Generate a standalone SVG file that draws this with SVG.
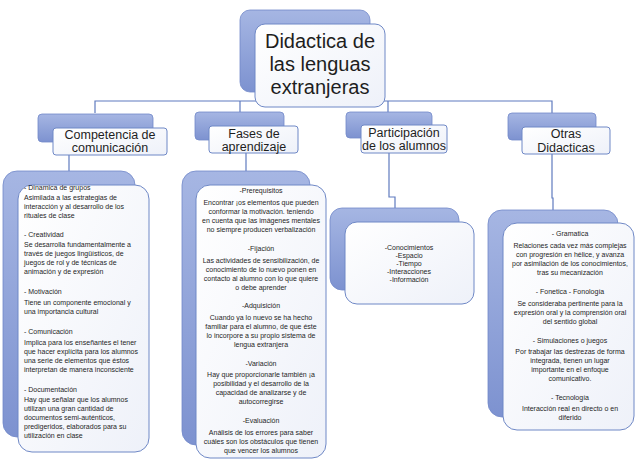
<svg xmlns="http://www.w3.org/2000/svg" width="640" height="464" viewBox="0 0 640 464">
<defs>
<linearGradient id="gb" x1="0" y1="0" x2="0" y2="1">
<stop offset="0" stop-color="#a6b6e3"/>
<stop offset="1" stop-color="#7d92d0"/>
</linearGradient>
<linearGradient id="gf" x1="0" y1="0" x2="1" y2="1">
<stop offset="0" stop-color="#ffffff"/>
<stop offset="1" stop-color="#eef1f9"/>
</linearGradient>
<style>
.bk{fill:url(#gb);stroke:#7289c9;stroke-width:0.8}
.fr{fill:url(#gf);stroke:#6f88c6;stroke-width:1}
.cn{fill:none;stroke:#5f7bbf;stroke-width:1.2}
text{font-family:"Liberation Sans",Arial,sans-serif;fill:#1e1e1e}
.t0{font-size:20px;text-anchor:middle}
.t1{font-size:12.5px;text-anchor:middle}
.s{font-size:7px}
.c{text-anchor:middle}
</style>
</defs>
<rect width="640" height="464" fill="#ffffff"/>
<g id="connectors">
<path class="cn" d="M95,113 V101 H552 V113"/>
<path class="cn" d="M240,101 V112"/>
<path class="cn" d="M388,101 V112"/>
<path class="cn" d="M69,155 V171"/>
<path class="cn" d="M246,153 V171"/>
<path class="cn" d="M389,153 V197 H395 V208"/>
<path class="cn" d="M552,154 V198 H553 V210"/>
</g>
<g id="root">
<rect class="bk" x="240" y="10" width="130" height="82" rx="10"/>
<rect class="fr" x="255" y="24" width="130" height="83" rx="10"/>
<text class="t0" x="320" y="48">Didactica de</text>
<text class="t0" x="320" y="71">las lenguas</text>
<text class="t0" x="320" y="94">extranjeras</text>
</g>
<g id="competencia">
<rect class="bk" x="38" y="114" width="115" height="28" rx="4"/>
<rect class="fr" x="53" y="128" width="114" height="27" rx="3"/>
<text class="t1" x="110" y="139">Competencia de</text>
<text class="t1" x="110" y="152">comunicación</text>
</g>
<g id="fases">
<rect class="bk" x="195" y="112" width="89" height="28" rx="4"/>
<rect class="fr" x="209" y="126" width="89" height="27" rx="3"/>
<text class="t1" x="254" y="138">Fases de</text>
<text class="t1" x="254" y="151">aprendizaje</text>
</g>
<g id="participacion">
<rect class="bk" x="346" y="112" width="86" height="26" rx="4"/>
<rect class="fr" x="361" y="125" width="86" height="28" rx="3"/>
<text class="t1" x="404" y="137">Participación</text>
<text class="t1" x="404" y="150">de los alumnos</text>
</g>
<g id="otras">
<rect class="bk" x="508" y="113" width="88" height="27" rx="4"/>
<rect class="fr" x="522" y="127" width="88" height="27" rx="3"/>
<text class="t1" x="566" y="138">Otras</text>
<text class="t1" x="566" y="152">Didacticas</text>
</g>
<g id="competencia-detalle">
<rect class="bk" x="3" y="171" width="132" height="266" rx="14"/>
<rect class="fr" x="18" y="185" width="131" height="267" rx="14"/>
<g class="s">
<text x="24" y="190">- Dinamica de grupos</text>
<text x="24" y="200">Asimilada a las estrategias de</text>
<text x="24" y="209">interacción y al desarrollo de los</text>
<text x="24" y="218">rituales de clase</text>
<text x="24" y="237">- Creatividad</text>
<text x="24" y="247">Se desarrolla fundamentalmente a</text>
<text x="24" y="256">través de juegos lingüísticos, de</text>
<text x="24" y="265">juegos de rol y de técnicas de</text>
<text x="24" y="274">animación y de expresión</text>
<text x="24" y="294">- Motivación</text>
<text x="24" y="305">Tiene un componente emocional  y</text>
<text x="24" y="314">una importancia cultural</text>
<text x="24" y="334">- Comunicación</text>
<text x="24" y="345">Implica para los enseñantes el tener</text>
<text x="24" y="354">que hacer explícita para los alumnos</text>
<text x="24" y="363">una serie de elementos que éstos</text>
<text x="24" y="372">interpretan de manera inconsciente</text>
<text x="24" y="392">- Documentación</text>
<text x="24" y="402">Hay que señalar que los alumnos</text>
<text x="24" y="411">utilizan una gran cantidad de</text>
<text x="24" y="420">documentos semi-auténticos,</text>
<text x="24" y="429">predigeridos, elaborados  para su</text>
<text x="24" y="438">utilización en clase</text>
</g>
</g>
<g id="fases-detalle">
<rect class="bk" x="182" y="171" width="128" height="274" rx="14"/>
<rect class="fr" x="196" y="185" width="130" height="273" rx="14"/>
<g class="s c">
<text x="261" y="193">-Prerequisitos</text>
<text x="261" y="205">Encontrar ¡os elementos que pueden</text>
<text x="261" y="214">conformar la motivación. teniendo</text>
<text x="261" y="223">en cuenta que las imágenes mentales</text>
<text x="261" y="232">no siempre producen verbalización</text>
<text x="261" y="251">-Fijación</text>
<text x="261" y="263">Las actividades de sensibilización, de</text>
<text x="261" y="272">conocimiento de lo nuevo ponen en</text>
<text x="261" y="281">contacto al alumno con lo que quiere</text>
<text x="261" y="290">o debe aprender</text>
<text x="261" y="308">-Adquisición</text>
<text x="261" y="320">Cuando ya lo nuevo se ha hecho</text>
<text x="261" y="329">familiar para el alumno, de que éste</text>
<text x="261" y="338">lo incorpore a su propio sistema de</text>
<text x="261" y="347">lengua extranjera</text>
<text x="261" y="366">-Variación</text>
<text x="261" y="377">Hay que proporcionarle también ¡a</text>
<text x="261" y="386">posibilidad y el desarrollo de la</text>
<text x="261" y="395">capacidad de analizarse y de</text>
<text x="261" y="404">autocorregirse</text>
<text x="261" y="423">-Evaluación</text>
<text x="261" y="435">Análisis de los errores para saber</text>
<text x="261" y="444">cuáles son los obstáculos que tienen</text>
<text x="261" y="453">que vencer los alumnos</text>
</g>
</g>
<g id="participacion-detalle">
<rect class="bk" x="330" y="208" width="129" height="82" rx="12"/>
<rect class="fr" x="345" y="222" width="129" height="82" rx="12"/>
<g class="s c">
<text x="409" y="250">-Conocimientos</text>
<text x="409" y="258">-Espacio</text>
<text x="409" y="266">-Tiempo</text>
<text x="409" y="274">-Interacciones</text>
<text x="409" y="282">-Información</text>
</g>
</g>
<g id="otras-detalle">
<rect class="bk" x="488" y="210" width="130" height="207" rx="14"/>
<rect class="fr" x="503" y="223" width="131" height="207" rx="14"/>
<g class="s c">
<text x="570" y="236">- Gramatica</text>
<text x="570" y="248">Relaciones cada vez más complejas</text>
<text x="570" y="257">con progresión en hélice, y avanza</text>
<text x="570" y="266">por asimilación de los conocimientos,</text>
<text x="570" y="275">tras su mecanización</text>
<text x="570" y="294">- Fonetica - Fonología</text>
<text x="570" y="306">Se consideraba pertinente para la</text>
<text x="570" y="315">expresión oral y la comprensión oral</text>
<text x="570" y="324">del sentido global</text>
<text x="570" y="343">- Simulaciones o juegos</text>
<text x="570" y="354">Por trabajar las destrezas de forma</text>
<text x="570" y="363">integrada, tienen un lugar</text>
<text x="570" y="372">importante en el enfoque</text>
<text x="570" y="381">comunicativo.</text>
<text x="570" y="400">- Tecnología</text>
<text x="570" y="411">Interacción real en directo o en</text>
<text x="570" y="420">diferido</text>
</g>
</g>
</svg>
